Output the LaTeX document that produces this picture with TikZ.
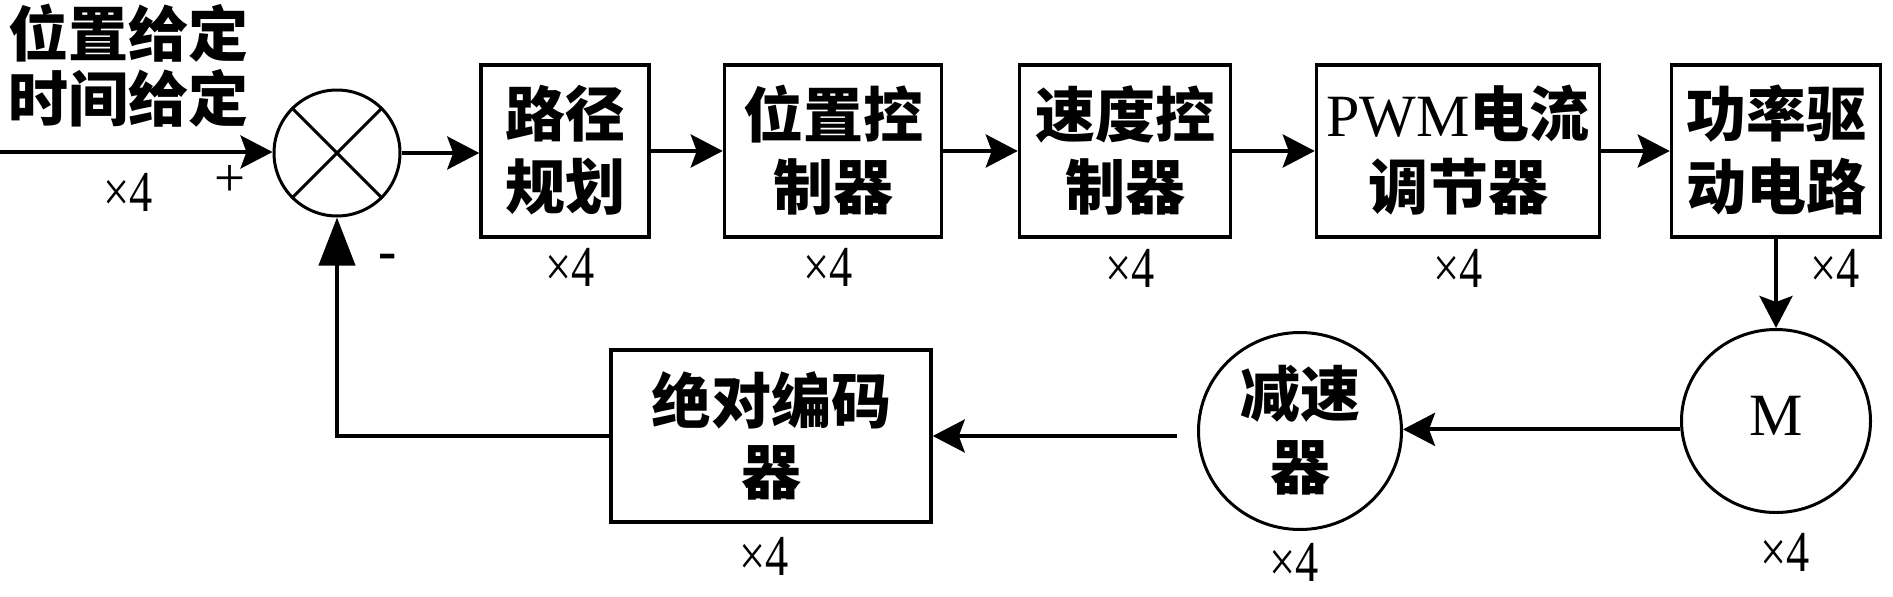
\documentclass[tikz,border=0pt]{standalone}
\usepackage{fontspec}
\setmainfont{Liberation Serif}
\newfontfamily\cjk{Noto Sans CJK SC}
\usetikzlibrary{arrows.meta,shapes.geometric}
\begin{document}
\begin{tikzpicture}[x=1pt,y=-1pt,
  blk/.style={draw,line width=3.5pt,minimum width=#1,minimum height=172pt,inner sep=0pt,align=center,
    font=\cjk\bfseries\fontsize{60}{73}\selectfont},
  rnd/.style={draw,ellipse,line width=3pt,inner sep=0pt,align=center,
    font=\cjk\bfseries\fontsize{60}{75}\selectfont},
  mul/.style={inner sep=0pt,font=\fontsize{58}{60}\selectfont},
  sgn/.style={inner sep=0pt,font=\fontsize{55}{60}\selectfont},
  arr/.style={line width=4pt,-{Stealth[length=32pt,width=33pt,inset=6pt]}},
  fb/.style={line width=4pt,-{Triangle[length=48pt,width=36pt]}}]
\useasboundingbox (0,0) rectangle (1893,597);
% input text
\node[inner sep=0pt,align=center,font=\cjk\bfseries\fontsize{60}{65}\selectfont] (tin) at (129,66) {位置给定\\时间给定};
% summing junction
\node[draw,circle,line width=3pt,minimum size=126pt,inner sep=0pt] (S) at (337,153) {};
\draw[line width=3pt] (S.45) -- (S.225) (S.135) -- (S.315);
% forward blocks
\node[blk=168pt] (B1) at (565,151) {\raisebox{7pt}{\shortstack{路径\\[13pt]规划}}};
\node[blk=217pt] (B2) at (833,151) {\raisebox{7pt}{\shortstack{位置控\\[13pt]制器}}};
\node[blk=211pt] (B3) at (1125,151) {\raisebox{7pt}{\shortstack{速度控\\[13pt]制器}}};
\node[blk=283pt] (B4) at (1458,151) {\raisebox{7pt}{\shortstack{{\rmfamily\mdseries PWM}电流\\[13pt]调节器}}};
\node[blk=209pt] (B5) at (1776,151) {\raisebox{7pt}{\shortstack{功率驱\\[13pt]动电路}}};
% motor, reducer, encoder
\node[rnd,minimum width=189pt,minimum height=183pt,font=\fontsize{60}{60}\selectfont] (M) at (1776,421) {\raisebox{11pt}{M}};
\node[rnd,minimum width=203pt,minimum height=197pt] (R) at (1300,431) {\raisebox{7pt}{\shortstack{减速\\[15pt]器}}};
\node[blk=320pt] (E) at (771,436) {\raisebox{5pt}{\shortstack{绝对编码\\[13pt]器}}};
% multiplicities
\node[mul] (m0) at (128,192) {\scalebox{0.8}[1]{×4}};
\node[mul] (m1) at (570,267) {\scalebox{0.8}[1]{×4}};
\node[mul] (m2) at (828,267) {\scalebox{0.8}[1]{×4}};
\node[mul] (m3) at (1130,268) {\scalebox{0.8}[1]{×4}};
\node[mul] (m4) at (1458,268) {\scalebox{0.8}[1]{×4}};
\node[mul] (m5) at (1835,268) {\scalebox{0.8}[1]{×4}};
\node[mul] (m6) at (1785,552) {\scalebox{0.8}[1]{×4}};
\node[mul] (m7) at (1294,562) {\scalebox{0.8}[1]{×4}};
\node[mul] (m8) at (764,556) {\scalebox{0.8}[1]{×4}};
% signs
\node[sgn] (plus) at (230,181) {+};
\node[sgn] (minus) at (388,262) {\textbf{-}};
% connectors
\coordinate (in) at (0,152);
\draw[arr] (in) -- (in -| S.west);
\draw[arr] (S.east) -- (S.east -| B1.west);
\draw[arr] (B1.east) -- (B2.west);
\draw[arr] (B2.east) -- (B3.west);
\draw[arr] (B3.east) -- (B4.west);
\draw[arr] (B4.east) -- (B5.west);
\draw[arr] (B5.south) -- (M.north);
\draw[arr] (M.185) -- (M.185 -| R.east);
\draw[arr,shorten <=20pt] (R.west |- E.east) -- (E.east);
\draw[fb] (E.west) -| (S.south);
\end{tikzpicture}
\end{document}
